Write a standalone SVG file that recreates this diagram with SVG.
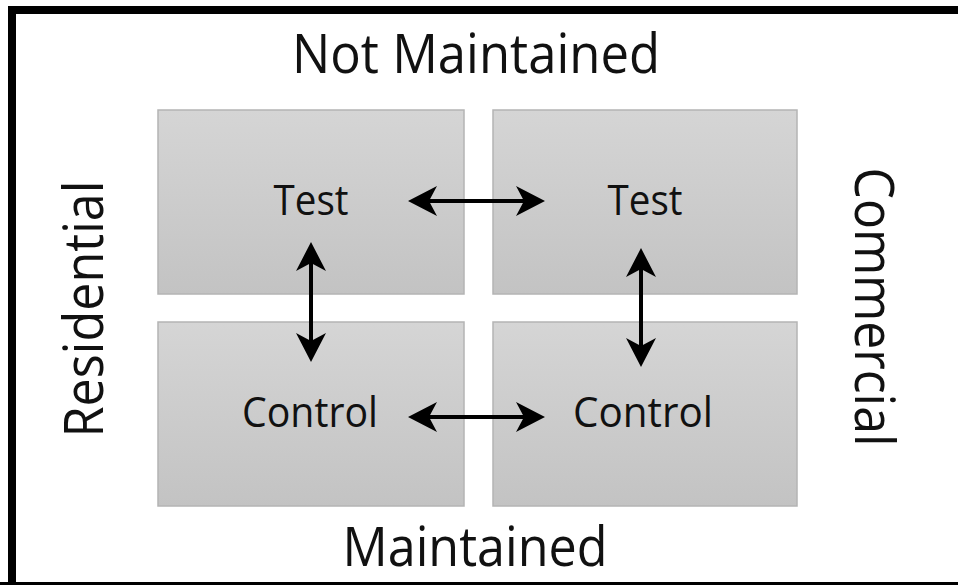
<svg xmlns="http://www.w3.org/2000/svg" width="958" height="585" viewBox="0 0 958 585">
  <style>
    .frame { fill: none; stroke: #000; }
    .cell { fill: url(#cellFill); stroke: #b4b4b4; stroke-width: 1.5; }
    .axis { font-family: "Open Sans", "Noto Sans", sans-serif; font-size: 54px; fill: #111; text-anchor: middle; }
    .label { font-family: "Open Sans", "Noto Sans", sans-serif; font-size: 42px; fill: #111; text-anchor: middle; }
    .link { stroke: #000; stroke-width: 4; fill: none; marker-start: url(#head); marker-end: url(#head); }
  </style>
  <defs>
    <linearGradient id="cellFill" x1="0" y1="0" x2="0" y2="1">
      <stop offset="0" stop-color="#d5d5d5"/>
      <stop offset="1" stop-color="#c3c3c3"/>
    </linearGradient>
    <marker id="head" markerUnits="userSpaceOnUse" markerWidth="40" markerHeight="40" viewBox="-20 -20 40 40" refX="0" refY="0" orient="auto-start-reverse">
      <path d="M13,0 L-16,-15 L-8,0 L-16,15 Z" fill="#000"/>
    </marker>
  </defs>

  <rect width="958" height="585" fill="#fff"/>
  <!-- outer frame -->
  <path class="frame" d="M12,585 L12,10 L958,10" stroke-width="8"/>
  <rect x="0" y="582" width="958" height="3" fill="#000"/>

  <!-- axis labels -->
  <text class="axis" x="476" y="73" textLength="368" lengthAdjust="spacingAndGlyphs">Not Maintained</text>
  <text class="axis" x="475" y="566" textLength="265" lengthAdjust="spacingAndGlyphs">Maintained</text>
  <text class="axis" transform="translate(103,309) rotate(-90)" textLength="257" lengthAdjust="spacingAndGlyphs">Residential</text>
  <text class="axis" transform="translate(855,307) rotate(90)" textLength="279" lengthAdjust="spacingAndGlyphs">Commercial</text>

  <!-- quadrants -->
  <g id="test-residential">
    <rect class="cell" x="158" y="110" width="306" height="184"/>
    <text class="label" x="311" y="215" textLength="75" lengthAdjust="spacingAndGlyphs">Test</text>
  </g>
  <g id="test-commercial">
    <rect class="cell" x="493" y="110" width="304" height="184"/>
    <text class="label" x="645" y="215" textLength="75" lengthAdjust="spacingAndGlyphs">Test</text>
  </g>
  <g id="control-residential">
    <rect class="cell" x="158" y="322" width="306" height="184"/>
    <text class="label" x="310" y="427" textLength="136" lengthAdjust="spacingAndGlyphs">Control</text>
  </g>
  <g id="control-commercial">
    <rect class="cell" x="493" y="322" width="304" height="184"/>
    <text class="label" x="643" y="427" textLength="140" lengthAdjust="spacingAndGlyphs">Control</text>
  </g>

  <!-- comparisons -->
  <g id="connectors">
    <line class="link" x1="421" y1="201" x2="532" y2="201"/>
    <line class="link" x1="421" y1="417" x2="532" y2="417"/>
    <line class="link" x1="311" y1="255" x2="311" y2="349"/>
    <line class="link" x1="641" y1="261" x2="641" y2="354"/>
  </g>
</svg>
